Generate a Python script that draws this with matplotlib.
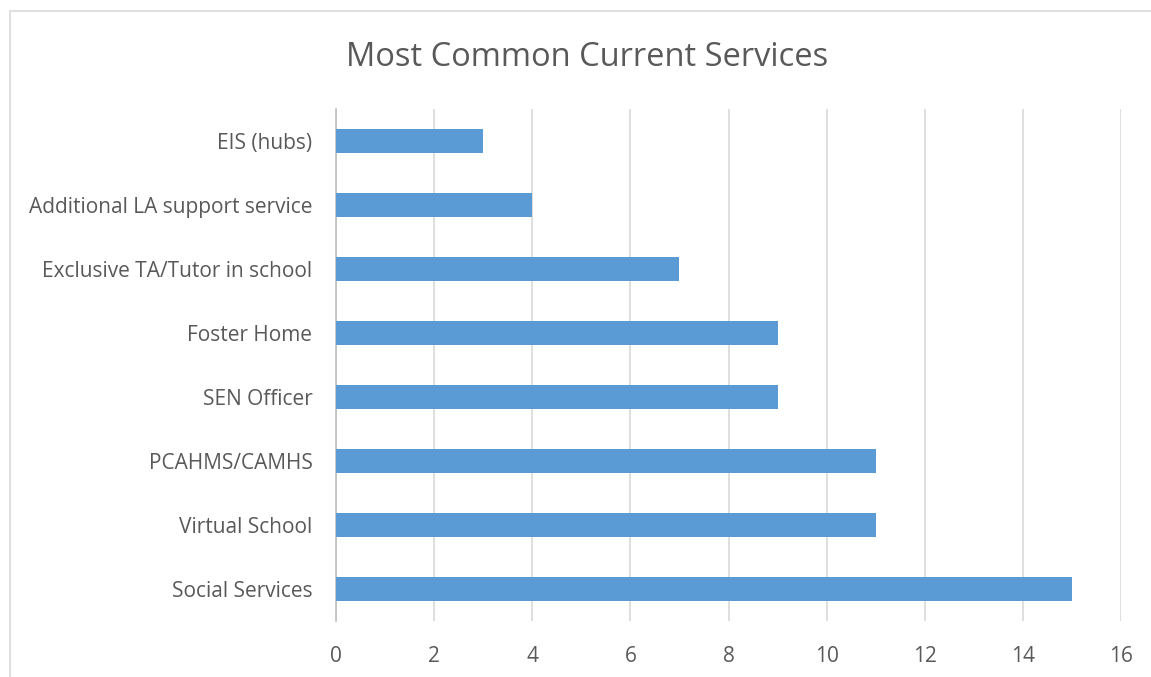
import matplotlib.pyplot as plt
from matplotlib.patches import Rectangle

# Data (bottom to top as drawn)
services = ['Social Services', 'Virtual School', 'PCAHMS/CAMHS', 'SEN Officer',
            'Foster Home', 'Exclusive TA/Tutor in school',
            'Additional LA support service', 'EIS (hubs)']
counts = [15, 11, 11, 9, 9, 7, 4, 3]
xticks = [0, 2, 4, 6, 8, 10, 12, 14, 16]

plt.rcParams['font.family'] = ['Open Sans', 'DejaVu Sans']
text_col = '#595959'

fig = plt.figure(figsize=(11.51, 6.77), dpi=100)
ax = fig.add_axes([336/1151, 1 - 621/677, 785/1151, 512/677])

ax.barh(range(len(services)), counts, height=0.375, color='#5b9bd5', zorder=3)

ax.set_xlim(0, 16)
ax.set_ylim(-0.5, len(services) - 0.5)
ax.set_xticks(xticks)
ax.set_yticks(range(len(services)))
ax.set_yticklabels(services)
ax.tick_params(axis='both', length=0, labelsize=15, colors=text_col)
ax.tick_params(axis='y', pad=17)
ax.tick_params(axis='x', pad=18)
ax.grid(axis='x', color='#d9d9d9', linewidth=1.2, zorder=0)
for s in ['top', 'right', 'bottom']:
    ax.spines[s].set_visible(False)
ax.spines['left'].set_color('#bfbfbf')
ax.spines['left'].set_linewidth(1.2)

fig.text(587/1151, 1 - 57/677, 'Most Common Current Services', ha='center', va='center',
         fontsize=23.5, color=text_col)

# chart border (left and top visible)
fig.patches.append(Rectangle((10/1151, -0.05), 1.1, 1 - 11/677 + 0.05,
                             transform=fig.transFigure, fill=False,
                             edgecolor='#d9d9d9', linewidth=1.2))

fig.savefig('out.png', dpi=100)
